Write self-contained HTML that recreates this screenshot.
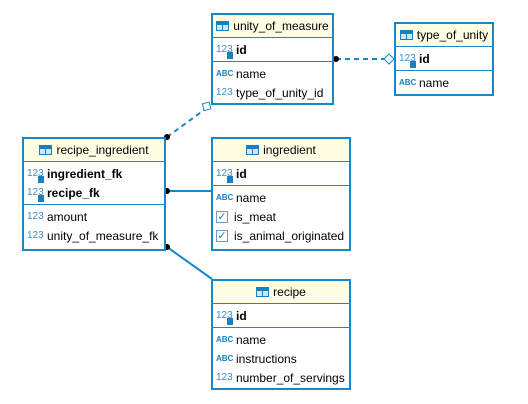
<!DOCTYPE html>
<html><head><meta charset="utf-8"><style>
body{margin:0;width:528px;height:404px;background:#fff;position:relative;overflow:hidden;font-family:"Liberation Sans","DejaVu Sans",sans-serif;font-size:12px;color:#000}
.t{position:absolute;border:2px solid #1688c8;background:#fff;box-sizing:border-box}
.h{background:#fffde4;height:22px;border-bottom:1px solid #1688c8;display:flex;align-items:center;justify-content:center;gap:4px}
.sec{border-bottom:1px solid #1688c8;padding:2px 0}
.sec:last-child{border-bottom:none}
.r{height:19px;display:flex;align-items:center;padding-left:3px;white-space:nowrap}
.b{font-weight:bold}
.ic{width:18px;font-size:10px;font-weight:normal;color:#3a8fc8;margin-right:2px;position:relative;display:inline-block}
.abc{font-size:8px;font-weight:bold;color:#1a7fc0}
.key{position:absolute;left:11px;top:8px;width:6px;height:7px;background:#1a7fc0}
.tbl{display:inline-block;width:13px;height:10px;border:1px solid #1a7fc0;box-sizing:border-box;background:linear-gradient(#1a7fc0 0 3px,transparent 3px) ,#cfe6f6;position:relative}
.tbl:after{content:"";position:absolute;left:5px;top:0;width:1px;height:100%;background:#1a7fc0}
.cb{display:inline-block;width:12px;height:12px;border:1px solid #6a9fc8;box-sizing:border-box;color:#1a7fc0;font-size:11px;line-height:10px;text-align:center;margin-right:6px}
</style></head><body>
<svg width="528" height="404" style="position:absolute;left:0;top:0">
<line x1="336" y1="59" x2="386" y2="59" stroke="#1688c8" stroke-width="2" stroke-dasharray="5,4"/>
<circle cx="336" cy="59" r="3" fill="#000"/>
<polygon points="384,59 389,54 394,59 389,64" fill="#fff" stroke="#1688c8"/>
<line x1="167" y1="137" x2="204" y2="110" stroke="#1688c8" stroke-width="2" stroke-dasharray="5,4"/>
<circle cx="167" cy="137" r="3" fill="#000"/>
<rect x="203" y="103" width="7" height="7" fill="#fff" stroke="#1688c8" transform="rotate(-15 206 106)"/>
<line x1="166" y1="191" x2="212" y2="191" stroke="#1688c8" stroke-width="2"/>
<circle cx="167" cy="191" r="3" fill="#000"/>
<line x1="167" y1="247" x2="212" y2="279" stroke="#1688c8" stroke-width="2"/>
<circle cx="167" cy="247" r="3" fill="#000"/>
</svg>

<div class="t" style="left:211px;top:13px;width:123px;height:92px">
<div class="h"><span class="tbl"></span>unity_of_measure</div>
<div class="sec"><div class="r b"><span class="ic">123<i class="key"></i></span>id</div></div>
<div class="sec"><div class="r"><span class="ic abc">ABC</span>name</div><div class="r"><span class="ic">123</span>type_of_unity_id</div></div>
</div>

<div class="t" style="left:394px;top:22px;width:100px;height:74px">
<div class="h"><span class="tbl"></span>type_of_unity</div>
<div class="sec"><div class="r b"><span class="ic">123<i class="key"></i></span>id</div></div>
<div class="sec"><div class="r"><span class="ic abc">ABC</span>name</div></div>
</div>

<div class="t" style="left:22px;top:137px;width:144px;height:114px">
<div class="h"><span class="tbl"></span>recipe_ingredient</div>
<div class="sec"><div class="r b"><span class="ic">123<i class="key"></i></span>ingredient_fk</div><div class="r b"><span class="ic">123<i class="key"></i></span>recipe_fk</div></div>
<div class="sec"><div class="r"><span class="ic">123</span>amount</div><div class="r"><span class="ic">123</span>unity_of_measure_fk</div></div>
</div>

<div class="t" style="left:211px;top:137px;width:140px;height:114px">
<div class="h"><span class="tbl"></span>ingredient</div>
<div class="sec"><div class="r b"><span class="ic">123<i class="key"></i></span>id</div></div>
<div class="sec"><div class="r"><span class="ic abc">ABC</span>name</div><div class="r"><span class="cb">✓</span>is_meat</div><div class="r"><span class="cb">✓</span>is_animal_originated</div></div>
</div>

<div class="t" style="left:211px;top:279px;width:140px;height:111px">
<div class="h"><span class="tbl"></span>recipe</div>
<div class="sec"><div class="r b"><span class="ic">123<i class="key"></i></span>id</div></div>
<div class="sec"><div class="r"><span class="ic abc">ABC</span>name</div><div class="r"><span class="ic abc">ABC</span>instructions</div><div class="r"><span class="ic">123</span>number_of_servings</div></div>
</div>
</body></html>
